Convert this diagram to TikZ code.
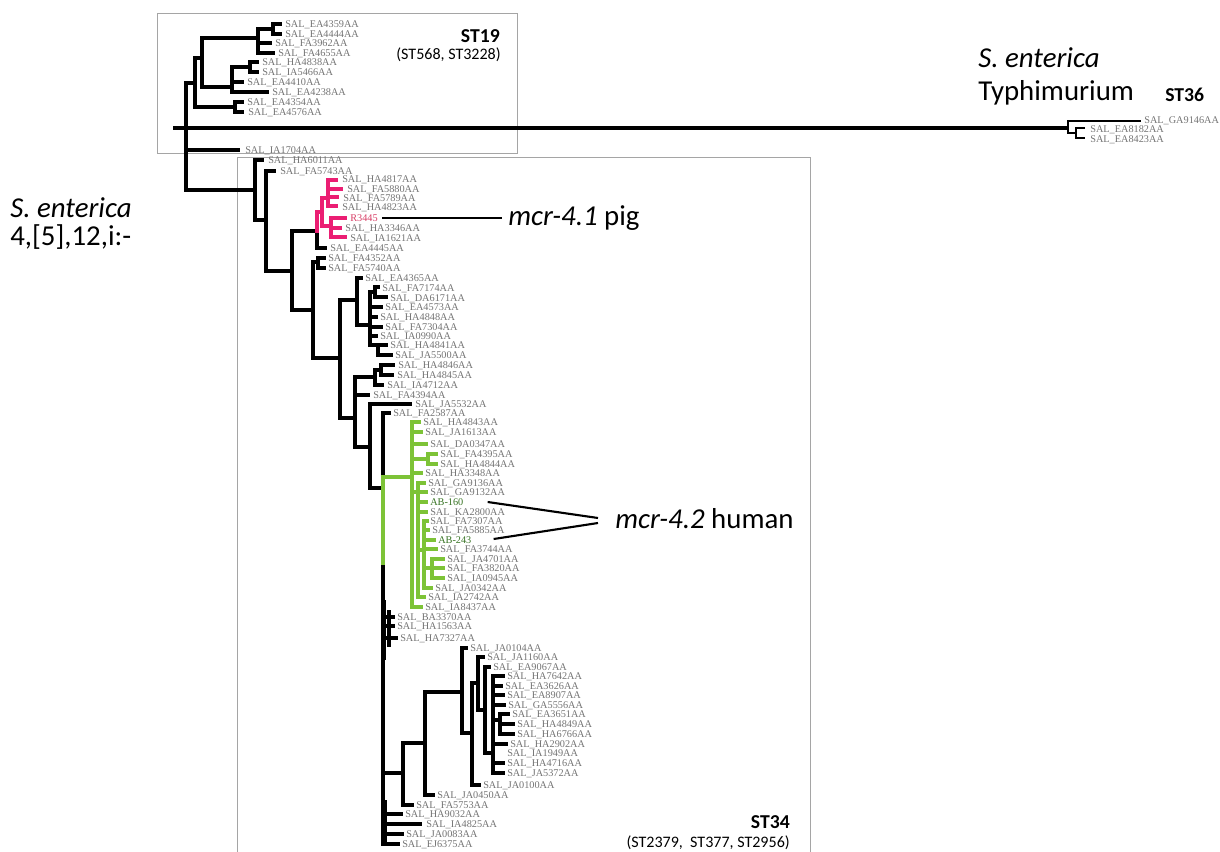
\documentclass[tikz,border=0pt]{standalone}
\usepackage{fontspec}
\setmainfont{Liberation Serif}
\newfontfamily\carl{Carlito}
\definecolor{labgray}{RGB}{115,115,115}
\definecolor{boxgray}{RGB}{165,165,165}
\definecolor{pinkc}{RGB}{235,30,115}
\definecolor{greenc}{RGB}{125,195,55}
\definecolor{dgreen}{RGB}{55,115,35}
\definecolor{rtext}{RGB}{215,60,100}
\newcommand\leaf[3]{\node[lab] (#3) at (#1,#2+3.4) {SAL\_#3};}
\begin{document}
\begin{tikzpicture}[x=0.025cm,y=-0.025cm,
  br/.style={line width=2.5pt,line cap=rect},
  pk/.style={line width=2.5pt,line cap=rect,draw=pinkc},
  gr/.style={line width=2.6pt,line cap=rect,draw=greenc},
  thin/.style={line width=1.7pt,line cap=rect},
  frame/.style={draw=boxgray,line width=0.7pt},
  lab/.style={anchor=base west,inner sep=0pt,text=labgray,font=\fontsize{7.3}{8}\selectfont},
  big/.style={anchor=base west,inner sep=0pt,font=\carl\fontsize{20.5}{24}\selectfont},
  stb/.style={inner sep=0pt,font=\carl\bfseries\fontsize{14}{16}\selectfont},
  sts/.style={inner sep=0pt,font=\carl\fontsize{11.4}{13}\selectfont},
  callout/.style={line width=1.5pt}]
\useasboundingbox (0,0) rectangle (1220,852);
\clip (0,0) rectangle (1220,852);
% frames
\draw[frame] (157,13) rectangle (517,153);
\draw[frame] (237,870) -- (237,157) -- (810,157) -- (810,870);
% ---------- ST19 clade ----------
\draw[br] (186,83) -- (186,190);
\draw[br] (186,83) -- (195,83);
\draw[br] (195,58) -- (195,107);
\draw[br] (195,58) -- (202,58);
\draw[br] (202,38) -- (202,87);
\draw[br] (202,38) -- (258,38);
\draw[br] (258,29) -- (258,53);
\draw[br] (258,29) -- (273,29);
\draw[br] (273,24) -- (273,34);
\draw[br] (273,24) -- (280,24);
\draw[br] (273,34) -- (280,34);
\draw[br] (258,43) -- (270,43);
\draw[br] (258,53) -- (273,53);
\draw[br] (202,87) -- (232,87);
\draw[br] (232,67) -- (232,92);
\draw[br] (232,67) -- (250,67);
\draw[br] (250,62) -- (250,72);
\draw[br] (250,62) -- (257,62);
\draw[br] (250,72) -- (257,72);
\draw[br] (232,82) -- (242,82);
\draw[br] (232,92) -- (267,92);
\draw[br] (195,107) -- (235,107);
\draw[br] (235,102) -- (235,112);
\draw[br] (235,102) -- (242,102);
\draw[br] (235,112) -- (242,112);
\leaf{285}{24}{EA4359AA}
\leaf{285}{34}{EA4444AA}
\leaf{275}{43}{FA3962AA}
\leaf{278}{53}{FA4655AA}
\leaf{262}{62}{HA4838AA}
\leaf{262}{72}{IA5466AA}
\leaf{247}{82}{EA4410AA}
\leaf{272}{92}{EA4238AA}
\leaf{247}{102}{EA4354AA}
\leaf{248}{112}{EA4576AA}
% ---------- root line and Typhimurium ----------
\draw[line width=2.2pt] (173,128) -- (1068,128);
\draw[thin] (1068,121) -- (1068,133);
\draw[thin] (1068,121) -- (1140,121);
\draw[thin] (1068,133) -- (1076,133);
\draw[thin] (1076,128) -- (1076,138);
\draw[thin] (1076,128) -- (1084,128);
\draw[thin] (1076,138) -- (1084,138);
\leaf{1144}{120}{GA9146AA}
\leaf{1090}{129}{EA8182AA}
\leaf{1090}{139}{EA8423AA}
% ---------- IA1704 ----------
\draw[br] (186,150) -- (238,150);
\leaf{245}{150}{IA1704AA}
% ---------- ST34 upper ----------
\draw[br] (186,190) -- (255,190);
\draw[br] (255,160) -- (255,220);
\draw[br] (255,160) -- (262,160);
\leaf{268}{160}{HA6011AA}
\draw[br] (255,220) -- (266,220);
\draw[br] (266,171) -- (266,271);
\draw[br] (266,171) -- (274,171);
\leaf{280}{171}{FA5743AA}
\draw[br] (266,271) -- (292,271);
\draw[br] (292,231) -- (292,310);
\draw[br] (292,231) -- (317,231);
\draw[br] (317,231) -- (317,248);
\draw[br] (317,248) -- (325,248);
\leaf{330}{248}{EA4445AA}
% pink clade
\draw[pk] (317,231) -- (317,212) -- (322,212);
\draw[pk] (322,198) -- (322,226);
\draw[pk] (322,198) -- (328,198);
\draw[pk] (328,180) -- (328,206);
\draw[pk] (328,180) -- (336,180);
\draw[pk] (328,189) -- (341,189);
\draw[pk] (328,197) -- (337,197);
\draw[pk] (328,206) -- (336,206);
\draw[pk] (322,226) -- (331,226);
\draw[pk] (331,218) -- (331,237);
\draw[pk] (331,218) -- (345,218);
\draw[pk] (331,228) -- (340,228);
\draw[pk] (331,237) -- (345,237);
\leaf{342}{179}{HA4817AA}
\leaf{347}{189}{FA5880AA}
\leaf{343}{198}{FA5789AA}
\leaf{342}{207}{HA4823AA}
\node[lab,text=rtext] (R3445) at (350,221.4) {R3445};
\leaf{345}{228}{HA3346AA}
\leaf{350}{238}{IA1621AA}
% FA4352 / FA5740
\draw[br] (292,310) -- (313,310);
\draw[br] (313,262) -- (313,358);
\draw[br] (313,262) -- (318,262);
\draw[br] (318,258) -- (318,268);
\draw[br] (318,258) -- (324,258);
\draw[br] (318,268) -- (324,268);
\leaf{328}{258}{FA4352AA}
\leaf{328}{268}{FA5740AA}
% EA4365 clade
\draw[br] (313,358) -- (340,358);
\draw[br] (340,300) -- (340,418);
\draw[br] (340,300) -- (357,300);
\draw[br] (357,278) -- (357,325);
\draw[br] (357,278) -- (361,278);
\leaf{365}{278}{EA4365AA}
\draw[br] (357,325) -- (370,325);
\draw[br] (370,292) -- (370,345);
\draw[br] (370,292) -- (375,292);
\draw[br] (375,287) -- (375,297);
\draw[br] (375,287) -- (378,287);
\draw[br] (375,297) -- (386,297);
\draw[br] (370,307) -- (381,307);
\draw[br] (370,317) -- (376,317);
\draw[br] (370,327) -- (381,327);
\draw[br] (370,336) -- (376,336);
\draw[br] (370,345) -- (378,345);
\draw[br] (378,345) -- (378,355);
\draw[br] (378,345) -- (386,345);
\draw[br] (378,355) -- (391,355);
\leaf{382}{288}{FA7174AA}
\leaf{390}{298}{DA6171AA}
\leaf{385}{307}{EA4573AA}
\leaf{380}{317}{HA4848AA}
\leaf{385}{327}{FA7304AA}
\leaf{380}{336}{IA0990AA}
\leaf{390}{345}{HA4841AA}
\leaf{395}{355}{JA5500AA}
% HA4846 clade
\draw[br] (340,418) -- (355,418);
\draw[br] (355,377) -- (355,447);
\draw[br] (355,377) -- (375,377);
\draw[br] (375,370) -- (375,385);
\draw[br] (375,370) -- (381,370);
\draw[br] (381,365) -- (381,375);
\draw[br] (381,365) -- (393,365);
\draw[br] (381,375) -- (392,375);
\draw[br] (375,385) -- (382,385);
\draw[br] (355,395) -- (368,395);
\leaf{398}{365}{HA4846AA}
\leaf{397}{375}{HA4845AA}
\leaf{387}{385}{IA4712AA}
\leaf{373}{395}{FA4394AA}
% backbone
\draw[br] (355,447) -- (370,447);
\draw[br] (370,404) -- (370,488);
\draw[br] (370,404) -- (410,404);
\leaf{415}{404}{JA5532AA}
\draw[br] (370,488) -- (383,488);
\draw[br] (383,413) -- (383,844);
\draw[br] (383,413) -- (389,413);
\leaf{393}{413}{FA2587AA}
\draw[line width=3.5pt] (384,600) -- (384,660);
\draw[br] (389,612) -- (389,645);
\draw[line width=3.5pt] (385,800) -- (385,844);
% green clade
\draw[gr] (383,477) -- (412,477);
\draw[gr] (383,477) -- (383,563);
\draw[gr] (412,422) -- (412,607);
\draw[gr] (412,422) -- (419,422);
\draw[gr] (412,432) -- (421,432);
\draw[gr] (412,444) -- (426,444);
\draw[gr] (412,459) -- (428,459);
\draw[gr] (428,454) -- (428,464);
\draw[gr] (428,454) -- (436,454);
\draw[gr] (428,464) -- (436,464);
\draw[gr] (412,473) -- (421,473);
\draw[gr] (412,492) -- (418,492);
\draw[gr] (418,483) -- (418,597);
\draw[gr] (418,483) -- (424,483);
\draw[gr] (418,492) -- (426,492);
\draw[gr] (418,502) -- (426,502);
\draw[gr] (418,512) -- (426,512);
\draw[gr] (418,550) -- (424,550);
\draw[gr] (424,521) -- (424,588);
\draw[gr] (424,521) -- (427,521);
\draw[gr] (424,530) -- (428,530);
\draw[gr] (424,540) -- (434,540);
\draw[gr] (424,549) -- (436,549);
\draw[gr] (424,568) -- (432,568);
\draw[gr] (432,559) -- (432,578);
\draw[gr] (432,559) -- (443,559);
\draw[gr] (432,568) -- (443,568);
\draw[gr] (432,578) -- (443,578);
\draw[gr] (424,588) -- (431,588);
\draw[gr] (418,597) -- (424,597);
\draw[gr] (412,607) -- (421,607);
\leaf{423}{422}{HA4843AA}
\leaf{425}{432}{JA1613AA}
\leaf{430}{444}{DA0347AA}
\leaf{440}{454}{FA4395AA}
\leaf{440}{464}{HA4844AA}
\leaf{425}{473}{HA3348AA}
\leaf{428}{483}{GA9136AA}
\leaf{430}{492}{GA9132AA}
\node[lab,text=dgreen] (AB160) at (430,505.4) {AB-160};
\leaf{430}{512}{KA2800AA}
\leaf{430}{521}{FA7307AA}
\leaf{432}{530}{FA5885AA}
\node[lab,text=dgreen] (AB243) at (438,543.4) {AB-243};
\leaf{440}{549}{FA3744AA}
\leaf{447}{559}{JA4701AA}
\leaf{447}{568}{FA3820AA}
\leaf{447}{578}{IA0945AA}
\leaf{435}{588}{JA0342AA}
\leaf{428}{597}{IA2742AA}
\leaf{425}{607}{IA8437AA}
% lower black part
\draw[br] (383,617) -- (393,617);
\draw[br] (383,626) -- (393,626);
\draw[br] (383,638) -- (396,638);
\leaf{397}{617}{BA3370AA}
\leaf{397}{626}{HA1563AA}
\leaf{400}{638}{HA7327AA}
\draw[br] (383,773) -- (403,773);
\draw[br] (403,743) -- (403,805);
\draw[br] (403,743) -- (425,743);
\draw[br] (403,805) -- (412,805);
\draw[br] (425,692) -- (425,795);
\draw[br] (425,692) -- (462,692);
\draw[br] (425,795) -- (433,795);
\draw[br] (462,648) -- (462,733);
\draw[br] (462,648) -- (466,648);
\draw[br] (462,733) -- (472,733);
\draw[br] (472,683) -- (472,785);
\draw[br] (472,683) -- (478,683);
\draw[br] (472,785) -- (479,785);
\draw[br] (478,657) -- (478,710);
\draw[br] (478,657) -- (483,657);
\draw[br] (478,710) -- (485,710);
\draw[br] (485,667) -- (485,753);
\draw[br] (485,667) -- (489,667);
\draw[br] (485,753) -- (493,753);
\draw[br] (493,676) -- (493,773);
\draw[br] (493,676) -- (503,676);
\draw[br] (493,686) -- (501,686);
\draw[br] (493,695) -- (503,695);
\draw[br] (493,705) -- (504,705);
\draw[br] (493,720) -- (500,720);
\draw[br] (500,714) -- (500,734);
\draw[br] (500,714) -- (508,714);
\draw[br] (500,724) -- (513,724);
\draw[br] (500,734) -- (513,734);
\draw[br] (493,744) -- (506,744);
\draw[br] (493,763) -- (503,763);
\draw[br] (493,773) -- (503,773);
\draw[br] (383,814) -- (401,814);
\draw[br] (383,824) -- (420,824);
\draw[br] (383,834) -- (402,834);
\draw[br] (383,844) -- (398,844);
\leaf{470}{648}{JA0104AA}
\leaf{487}{657}{JA1160AA}
\leaf{493}{667}{EA9067AA}
\leaf{507}{676}{HA7642AA}
\leaf{505}{686}{EA3626AA}
\leaf{507}{695}{EA8907AA}
\leaf{508}{705}{GA5556AA}
\leaf{512}{714}{EA3651AA}
\leaf{517}{724}{HA4849AA}
\leaf{517}{734}{HA6766AA}
\leaf{510}{744}{HA2902AA}
\leaf{507}{753}{IA1949AA}
\leaf{507}{763}{HA4716AA}
\leaf{507}{773}{JA5372AA}
\leaf{483}{785}{JA0100AA}
\leaf{437}{795}{JA0450AA}
\leaf{416}{805}{FA5753AA}
\leaf{405}{814}{HA9032AA}
\leaf{426}{824}{IA4825AA}
\leaf{406}{834}{JA0083AA}
\leaf{402}{844}{EJ6375AA}
% ---------- big labels ----------
\node[stb,anchor=base east] (st19) at (500,43) {ST19};
\node[sts,anchor=base east] (st19s) at (501,60) {(ST568, ST3228)};
\node[big] (se1) at (978,68) {\itshape S. enterica};
\node[big] (typh) at (978,101) {Typhimurium};
\node[stb,anchor=base west] (st36) at (1165,102) {ST36};
\node[big] (se2) at (10,218) {\itshape S. enterica};
\node[big] (ser) at (10,246) {4,[5],12,i:-};
\node[big] (mcr41) at (508,226) {\textit{mcr-4.1} pig};
\node[big] (mcr42) at (615,528) {\textit{mcr-4.2} human};
\node[stb,anchor=base east] (st34) at (790,828) {ST34};
\node[sts,anchor=base east] (st34s) at (790,847) {(ST2379,\ \ ST377, ST2956)};
% callouts
\coordinate (m41) at (502,218);
\coordinate (m42a) at (598,518);
\coordinate (m42b) at (598,523);
\draw[callout] ([xshift=3pt]R3445.east |- 0,218) -- (m41);
\draw[callout] ([xshift=0.6cm]AB160.east |- 0,502) -- (m42a);
\draw[callout] ([xshift=0.55cm]AB243.east |- 0,539) -- (m42b);
\end{tikzpicture}
\end{document}
